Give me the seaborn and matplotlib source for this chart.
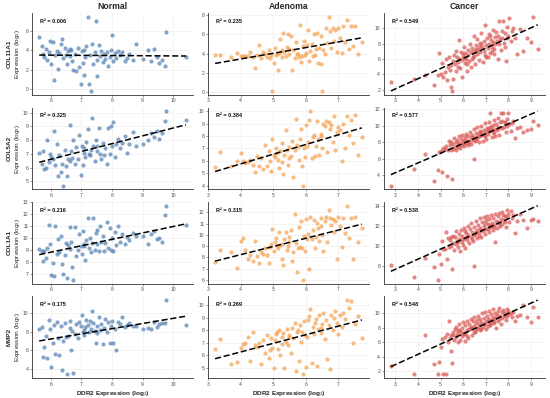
import pandas as pd
import seaborn as sns
import matplotlib.pyplot as plt
from matplotlib import transforms

# DDR2 expression (log2), shared by the four genes inside each group
normal_ddr2 = [
    5.62, 5.70, 5.74, 5.78, 5.83, 5.88, 5.93, 5.97, 6.02, 6.06,
    6.10, 6.14, 6.19, 6.23, 6.28, 6.33, 6.37, 6.41, 6.46, 6.52,
    6.57, 6.61, 6.64, 6.67, 6.70, 6.73, 6.78, 6.83, 6.88, 6.92,
    6.97, 7.01, 7.05, 7.09, 7.12, 7.16, 7.20, 7.24, 7.28, 7.31,
    7.35, 7.39, 7.43, 7.47, 7.52, 7.56, 7.60, 7.65, 7.69, 7.74,
    7.78, 7.83, 7.87, 7.92, 7.96, 8.00, 8.04, 8.09, 8.13, 8.18,
    8.25, 8.33, 8.41, 8.48, 8.55, 8.68, 8.80, 9.02, 9.18, 9.28,
    9.38, 9.46, 9.55, 9.62, 9.72, 9.76, 10.42, 6.48, 7.08, 7.50,
]
adenoma_ddr2 = [
    3.22, 3.36, 3.72, 3.90, 4.02, 4.08, 4.15, 4.22, 4.30, 4.38,
    4.45, 4.52, 4.58, 4.64, 4.70, 4.76, 4.82, 4.88, 4.93, 4.98,
    5.02, 5.06, 5.10, 5.14, 5.18, 5.22, 5.26, 5.30, 5.34, 5.38,
    5.42, 5.46, 5.50, 5.54, 5.58, 5.62, 5.66, 5.70, 5.74, 5.78,
    5.82, 5.86, 5.90, 5.94, 5.98, 6.02, 6.06, 6.10, 6.14, 6.18,
    6.22, 6.26, 6.30, 6.34, 6.38, 6.42, 6.46, 6.50, 6.54, 6.58,
    6.62, 6.66, 6.70, 6.74, 6.78, 6.82, 6.86, 6.90, 6.95, 7.00,
    7.05, 7.10, 7.15, 7.20, 7.26, 7.32, 7.38, 7.45, 7.52, 7.60,
    7.72, 5.12, 5.48, 5.76, 6.04, 6.28, 5.28, 5.88, 6.48, 4.90,
]
cancer_ddr2 = [
    2.80, 3.80, 4.30, 4.70, 4.88, 4.95, 5.00, 5.05, 5.12, 5.18,
    5.22, 5.28, 5.33, 5.38, 5.42, 5.46, 5.50, 5.53, 5.56, 5.60,
    5.63, 5.66, 5.70, 5.73, 5.76, 5.80, 5.83, 5.86, 5.90, 5.93,
    5.96, 6.00, 6.03, 6.06, 6.10, 6.13, 6.16, 6.20, 6.23, 6.26,
    6.30, 6.33, 6.36, 6.40, 6.43, 6.46, 6.50, 6.53, 6.56, 6.60,
    6.63, 6.66, 6.70, 6.73, 6.76, 6.80, 6.83, 6.86, 6.90, 6.93,
    6.96, 7.00, 7.03, 7.06, 7.10, 7.13, 7.16, 7.20, 7.23, 7.26,
    7.30, 7.33, 7.36, 7.40, 7.43, 7.46, 7.50, 7.53, 7.56, 7.60,
    7.63, 7.66, 7.70, 7.73, 7.76, 7.80, 7.84, 7.88, 7.92, 7.96,
    8.00, 8.05, 8.10, 8.16, 8.22, 8.30, 8.40, 8.52, 8.65, 8.82,
    9.00, 9.10, 9.30, 5.48, 5.78, 6.08, 6.38, 6.68, 6.98, 7.28,
    7.58, 7.86, 6.18, 6.48, 6.78, 7.08, 7.38, 5.98, 6.58, 7.18,
]

# Normal tissue
normal_col11a1 = [
    5.3, 4.4, 3.6, 3.3, 4.1, 3.0, 3.8, 4.9, 2.6, 4.8,
    0.9, 3.5, 3.9, 2.1, 3.7, 4.6, 5.1, 3.2, 4.2, 2.6,
    3.9, 4.1, 3.4, 4.0, 2.9, 2.0, 3.6, 1.9, 4.2, 2.3,
    0.5, 3.9, 2.7, 1.5, 3.3, 4.4, 7.4, 0.5, 3.5, -0.2,
    4.6, 2.6, 3.8, 7.0, 1.3, 4.5, 3.4, 3.9, 2.8, 3.6,
    3.1, 3.8, 2.4, 3.3, 4.0, 5.5, 2.9, 3.7, 3.2, 3.9,
    3.5, 3.8, 2.9, 3.2, 3.6, 3.0, 4.6, 3.1, 4.0, 2.9,
    4.1, 3.3, 2.7, 3.0, 2.4, 5.9, 3.3, 3.5, 4.0, 3.0,
]
normal_col5a2 = [
    7.1, 6.3, 7.2, 5.9, 6.0, 8.0, 6.4, 7.0, 6.8, 6.6,
    8.7, 6.2, 7.7, 5.4, 6.9, 5.7, 6.3, 4.7, 7.3, 5.4,
    6.6, 9.1, 6.5, 7.2, 6.7, 8.0, 6.3, 7.5, 6.6, 8.4,
    5.5, 7.6, 6.2, 7.4, 6.8, 7.9, 8.8, 7.0, 6.9, 7.3,
    9.6, 7.6, 6.5, 8.0, 7.2, 8.9, 7.0, 6.6, 7.8, 6.9,
    7.4, 6.3, 8.9, 7.0, 9.0, 7.6, 9.3, 6.8, 7.7, 8.1,
    7.4, 7.8, 8.3, 7.1, 7.7, 8.6, 7.6, 7.7, 8.0, 8.5,
    8.2, 8.7, 8.1, 8.5, 9.4, 10.1, 9.5, 6.1, 7.1, 7.6,
]
normal_col1a1 = [
    9.1, 8.9, 8.1, 8.9, 8.3, 9.2, 11.1, 9.5, 6.9, 7.9,
    6.8, 11.0, 8.7, 9.9, 8.8, 10.2, 7.8, 7.0, 8.6, 6.7,
    9.4, 10.9, 9.1, 9.7, 7.6, 6.5, 10.9, 8.5, 9.0, 10.3,
    9.3, 8.7, 10.6, 9.5, 8.2, 9.8, 11.7, 9.2, 10.0, 8.8,
    9.6, 11.7, 9.0, 10.4, 9.5, 8.9, 11.0, 9.7, 10.2, 8.9,
    9.6, 11.3, 9.2, 10.8, 9.0, 10.0, 8.9, 10.5, 9.4, 11.0,
    9.7, 10.3, 9.5, 10.1, 9.8, 10.4, 10.2, 10.2, 9.5, 10.3,
    10.6, 9.9, 10.0, 9.7, 11.9, 12.7, 11.1, 9.6, 9.3, 10.7,
]
normal_mmp2 = [
    8.3, 8.5, 5.3, 6.3, 7.5, 5.2, 9.3, 8.3, 4.2, 6.8,
    8.7, 5.6, 9.0, 7.3, 5.5, 8.6, 3.9, 7.0, 8.9, 3.4,
    7.5, 8.4, 9.1, 6.0, 8.1, 3.5, 7.8, 8.8, 7.3, 9.0,
    8.6, 9.8, 8.0, 7.6, 8.5, 9.3, 8.7, 8.0, 9.2, 8.3,
    10.2, 8.9, 8.1, 6.8, 8.6, 9.6, 8.2, 8.8, 6.7, 8.4,
    9.4, 8.0, 9.0, 6.8, 8.6, 9.1, 6.8, 8.3, 6.0, 9.0,
    8.8, 9.6, 8.5, 8.7, 8.9, 8.6, 8.6, 8.3, 8.4, 8.3,
    9.0, 8.5, 8.8, 8.9, 8.9, 11.4, 8.7, 7.4, 8.2, 7.9,
]

# Adenoma
adenoma_col11a1 = [
    3.8, 3.8, 3.6, 4.1, 3.7, 3.7, 3.7, 3.7, 4.2, 3.6,
    2.5, 3.8, 4.9, 3.5, 4.2, 3.9, 3.6, 4.4, 3.8, 0.1,
    3.0, 4.6, 3.8, 2.3, 4.1, 5.5, 3.6, 6.1, 4.2, 3.7,
    4.7, 6.0, 3.9, 5.8, 2.3, 4.4, 3.5, 5.2, 4.0, 3.6,
    7.0, 3.1, 4.8, 5.3, 3.8, 4.1, 6.4, 3.2, 4.3, 5.0,
    3.7, 6.0, 4.5, 6.1, 3.0, 4.6, 2.9, 0.1, 4.4, 3.9,
    6.6, 5.1, 7.8, 6.3, 4.6, 6.6, 5.3, 6.4, 4.2, 6.6,
    5.6, 4.1, 6.8, 5.2, 7.5, 4.5, 6.9, 4.8, 6.8, 4.0,
    5.2, 4.0, 4.5, 3.9, 4.9, 3.8, 4.4, 3.7, 5.8, 3.5,
]
adenoma_col5a2 = [
    5.5, 6.7, 5.6, 6.0, 6.6, 6.0, 5.8, 5.9, 6.1, 5.7,
    5.1, 6.4, 5.6, 6.2, 5.3, 7.3, 5.6, 6.8, 5.2, 7.8,
    6.5, 6.3, 7.0, 6.1, 5.4, 6.8, 7.4, 4.9, 6.5, 8.5,
    6.9, 5.7, 7.1, 6.4, 7.6, 4.7, 6.9, 9.4, 7.3, 6.1,
    7.8, 8.6, 4.0, 7.0, 6.3, 8.9, 7.5, 9.3, 10.0, 6.2,
    7.9, 8.1, 7.2, 9.2, 7.8, 6.5, 8.0, 7.0, 9.0, 8.8,
    9.2, 6.7, 9.1, 8.6, 8.9, 7.5, 9.6, 6.9, 8.3, 8.7,
    8.5, 6.0, 9.0, 7.0, 9.6, 8.1, 9.3, 7.4, 9.7, 6.5,
    7.9, 6.6, 6.2, 7.1, 7.2, 6.4, 5.9, 5.6, 8.2, 6.0,
]
adenoma_col1a1 = [
    7.6, 8.7, 8.5, 7.1, 9.5, 9.7, 8.7, 7.9, 8.2, 7.7,
    9.5, 8.1, 7.5, 8.5, 8.3, 8.8, 8.2, 7.5, 9.2, 10.5,
    8.6, 9.4, 9.7, 8.8, 10.3, 9.1, 7.9, 7.3, 9.6, 10.3,
    8.7, 9.0, 9.8, 10.4, 7.7, 8.5, 11.9, 9.3, 6.7, 10.7,
    8.9, 11.2, 6.0, 9.9, 8.6, 11.4, 10.1, 7.0, 11.6, 9.6,
    10.4, 11.3, 9.8, 11.1, 10.6, 9.5, 11.5, 10.0, 8.6, 11.2,
    11.6, 9.4, 12.2, 11.5, 10.9, 11.4, 10.3, 11.2, 7.9, 11.6,
    10.8, 8.9, 11.5, 10.2, 12.6, 9.7, 11.5, 7.9, 11.6, 9.4,
    10.6, 9.0, 9.4, 8.8, 9.6, 8.8, 9.2, 8.8, 10.8, 8.9,
]
adenoma_mmp2 = [
    6.5, 7.3, 5.3, 5.5, 6.6, 6.9, 7.0, 7.5, 5.6, 7.9,
    6.8, 6.7, 7.0, 5.3, 7.2, 6.2, 7.6, 5.8, 7.4, 6.6,
    5.0, 7.2, 7.7, 6.5, 8.0, 6.0, 7.5, 7.8, 5.0, 7.1,
    8.1, 6.8, 7.6, 6.2, 8.2, 7.4, 8.6, 4.8, 7.9, 5.6,
    8.4, 7.1, 4.5, 8.7, 7.6, 5.1, 8.8, 9.1, 9.7, 5.4,
    8.3, 7.7, 8.9, 5.2, 8.1, 9.2, 7.8, 8.5, 9.4, 7.3,
    8.8, 5.7, 8.4, 4.9, 9.2, 8.0, 9.0, 9.5, 8.6, 7.7,
    9.2, 8.3, 9.4, 8.9, 10.4, 9.8, 10.3, 7.0, 8.5, 9.1,
    7.4, 7.9, 7.5, 8.0, 7.5, 8.6, 6.9, 7.9, 8.2, 6.4,
]

# Cancer
cancer_col11a1 = [
    3.0, 3.4, 3.9, 2.6, 3.9, 6.8, 4.0, 5.5, 3.6, 4.3,
    6.0, 3.2, 5.0, 6.2, 4.6, 2.4, 1.8, 5.8, 3.4, 6.5,
    5.3, 7.1, 4.4, 6.2, 5.6, 8.5, 6.0, 4.8, 6.9, 5.9,
    3.6, 6.3, 7.6, 5.5, 6.8, 6.0, 4.4, 7.2, 6.5, 5.8,
    8.0, 6.9, 4.9, 7.4, 6.2, 9.0, 7.0, 5.3, 7.8, 6.6,
    8.6, 7.2, 5.9, 8.1, 6.9, 9.4, 7.5, 5.6, 8.3, 7.0,
    10.5, 7.8, 6.2, 8.7, 7.4, 9.3, 8.0, 6.8, 8.5, 7.6,
    9.8, 8.2, 6.6, 8.9, 7.9, 9.5, 8.4, 6.0, 9.0, 10.9,
    8.6, 7.2, 9.7, 8.8, 10.9, 8.1, 9.4, 5.8, 8.7, 10.2,
    9.0, 11.3, 8.3, 9.6, 10.1, 8.8, 6.6, 9.9, 7.1, 8.8,
    8.2, 11.5, 7.3, 5.2, 5.0, 6.1, 6.0, 7.6, 6.5, 7.0,
    8.0, 7.5, 5.4, 6.4, 8.0, 6.3, 7.3, 6.7, 7.3, 9.0,
]
cancer_col5a2 = [
    2.7, 4.7, 6.5, 3.2, 4.6, 6.8, 6.9, 4.3, 7.3, 7.2,
    7.5, 3.9, 7.0, 8.2, 7.6, 7.0, 3.5, 7.8, 7.2, 8.5,
    7.4, 8.0, 7.1, 8.3, 7.6, 8.8, 7.9, 7.3, 8.4, 7.7,
    8.9, 8.1, 7.5, 8.6, 7.9, 9.0, 8.2, 7.6, 8.7, 8.0,
    9.2, 8.4, 7.8, 8.9, 8.3, 9.6, 5.9, 8.1, 9.1, 8.5,
    9.8, 8.8, 8.0, 9.4, 8.7, 10.0, 9.0, 8.2, 9.5, 8.9,
    10.3, 9.2, 8.4, 9.7, 9.0, 10.5, 9.4, 11.6, 9.8, 8.6,
    10.1, 9.3, 10.7, 9.6, 8.8, 10.2, 9.5, 10.9, 9.9, 8.9,
    10.4, 11.6, 9.7, 10.6, 11.6, 9.9, 10.3, 9.2, 10.8, 10.0,
    11.6, 10.2, 9.4, 10.3, 10.6, 8.5, 9.7, 9.9, 9.2, 9.5,
    9.6, 10.6, 10.1, 8.0, 7.4, 8.3, 8.6, 9.1, 8.7, 9.5,
    9.7, 10.5, 7.9, 8.6, 9.2, 9.6, 9.1, 7.9, 8.3, 9.8,
]
cancer_col1a1 = [
    8.1, 6.9, 8.8, 7.9, 6.6, 9.2, 8.2, 10.5, 9.7, 9.7,
    11.4, 8.7, 10.8, 9.9, 10.6, 10.0, 7.7, 10.3, 11.0, 9.6,
    10.9, 10.2, 11.5, 10.5, 9.9, 11.2, 10.7, 9.5, 11.6, 10.4,
    11.0, 10.1, 11.8, 10.8, 9.8, 11.3, 10.6, 12.0, 11.1, 10.3,
    11.7, 10.9, 12.3, 11.4, 10.5, 11.9, 8.0, 11.2, 12.5, 11.6,
    10.8, 12.1, 11.3, 12.8, 11.8, 10.9, 12.4, 11.5, 12.9, 12.0,
    11.2, 12.6, 11.7, 13.0, 12.2, 11.4, 12.7, 11.9, 13.1, 12.3,
    11.6, 12.8, 12.1, 13.2, 10.4, 12.5, 11.8, 13.0, 12.4, 13.3,
    12.0, 12.7, 13.4, 12.2, 13.1, 12.6, 13.0, 11.9, 13.6, 12.9,
    13.2, 12.4, 13.5, 12.8, 13.1, 11.3, 12.5, 13.2, 12.6, 11.8,
    12.6, 12.7, 12.5, 10.9, 10.4, 11.5, 10.7, 11.0, 12.3, 12.0,
    12.2, 12.4, 10.9, 11.1, 11.6, 11.7, 11.9, 10.7, 11.4, 12.1,
]
cancer_mmp2 = [
    2.8, 1.7, 7.0, 3.0, 1.7, 3.3, 5.4, 6.5, 1.7, 6.8,
    1.6, 7.2, 6.0, 9.0, 6.6, 4.8, 3.2, 7.5, 7.0, 6.3,
    7.9, 6.8, 8.2, 7.1, 6.1, 7.7, 8.5, 6.4, 7.4, 8.0,
    6.9, 8.8, 7.3, 6.2, 8.4, 7.6, 9.0, 7.9, 6.6, 8.6,
    7.8, 9.2, 8.1, 7.0, 8.9, 8.3, 9.5, 7.5, 8.7, 9.1,
    8.0, 9.6, 8.5, 7.7, 9.3, 8.8, 10.0, 8.2, 9.4, 8.6,
    10.2, 9.0, 7.9, 9.7, 8.9, 10.4, 9.2, 8.4, 9.9, 9.1,
    10.6, 9.5, 8.7, 10.1, 9.4, 8.0, 9.8, 10.3, 9.0, 10.7,
    9.6, 8.6, 10.2, 9.4, 10.5, 9.8, 10.0, 9.1, 10.6, 9.7,
    10.3, 9.9, 10.1, 9.5, 10.2, 9.0, 9.6, 9.8, 11.1, 9.5,
    8.8, 10.9, 9.5, 7.0, 7.6, 7.2, 8.0, 8.2, 8.5, 8.8,
    9.3, 9.6, 6.9, 7.4, 7.9, 8.3, 8.9, 7.1, 7.7, 8.6,
]

groups = ['Normal', 'Adenoma', 'Cancer']
genes = ['COL11A1', 'COL5A2', 'COL1A1', 'MMP2']
r2_labels = [
    ['0.006', '0.235', '0.549'],
    ['0.325', '0.384', '0.577'],
    ['0.216', '0.315', '0.538'],
    ['0.175', '0.269', '0.548'],
]

ddr2 = {'Normal': normal_ddr2, 'Adenoma': adenoma_ddr2, 'Cancer': cancer_ddr2}
expr = {
    'Normal': [normal_col11a1, normal_col5a2, normal_col1a1, normal_mmp2],
    'Adenoma': [adenoma_col11a1, adenoma_col5a2, adenoma_col1a1, adenoma_mmp2],
    'Cancer': [cancer_col11a1, cancer_col5a2, cancer_col1a1, cancer_mmp2],
}
colors = {'Normal': '#5582b2', 'Adenoma': '#f5a253', 'Cancer': '#d95a55'}

xticks = [[6, 7, 8, 9, 10], [3, 4, 5, 6, 7], [3, 4, 5, 6, 7, 8, 9]]
yticks = [
    [[0, 2, 4, 6], [0, 2, 4, 6, 8], [2, 4, 6, 8, 10]],
    [[5, 6, 7, 8, 9, 10], [4, 5, 6, 7, 8, 9, 10], [4, 6, 8, 10, 12]],
    [[7, 8, 9, 10, 11, 12, 13], [6, 7, 8, 9, 10, 11, 12], [8, 10, 12, 14]],
    [[4, 6, 8, 10], [5, 6, 7, 8, 9, 10], [2, 4, 6, 8, 10]],
]

sns.set_theme(style='white')
plt.rcParams['font.family'] = ['Liberation Sans', 'DejaVu Sans']
plt.rcParams['mathtext.fontset'] = 'custom'
plt.rcParams['mathtext.rm'] = 'Liberation Sans'
plt.rcParams['mathtext.bf'] = 'Liberation Sans:bold'

fig, axes = plt.subplots(4, 3, figsize=(5.5, 3.98), dpi=100)
fig.subplots_adjust(left=0.058, right=0.991, bottom=0.05, top=0.967,
                    wspace=0.089, hspace=0.155)

for i, gene in enumerate(genes):
    for j, grp in enumerate(groups):
        ax = axes[i, j]
        df = pd.DataFrame({'DDR2': ddr2[grp], gene: expr[grp][i]})
        sns.regplot(data=df, x='DDR2', y=gene, ax=ax, ci=None,
                    scatter_kws=dict(s=9, color=colors[grp], alpha=0.72, linewidths=0),
                    line_kws=dict(color='black', lw=1.1, ls=(0, (4, 1.8))))
        ax.set_xticks(xticks[j])
        ax.set_yticks(yticks[i][j])
        ax.set_xlabel('')
        ax.set_ylabel('')
        ax.grid(True, color='#ececec', lw=0.4)
        ax.set_axisbelow(True)
        for side in ['top', 'right']:
            ax.spines[side].set_visible(False)
        for side in ['left', 'bottom']:
            ax.spines[side].set_color('#333333')
            ax.spines[side].set_linewidth(0.6)
        ax.tick_params(labelsize=3.6, length=1.5, width=0.4, pad=1,
                       colors='#4d4d4d', left=True, bottom=True)
        ax.text(0.05, 0.9, 'R² = ' + r2_labels[i][j], transform=ax.transAxes,
                fontsize=4, fontweight='bold', va='center', color='#111111')
        if i == 0:
            ax.set_title(grp, fontsize=6.2, fontweight='bold', pad=3)
        if i == 3:
            ax.set_xlabel('DDR2 Expression (log$_2$)', fontsize=4.6,
                          fontweight='bold', labelpad=1.5)
        if j == 0:
            tr = transforms.blended_transform_factory(fig.transFigure, ax.transAxes)
            ax.text(0.016, 0.5, gene, transform=tr, rotation=90, fontsize=4.6,
                    fontweight='bold', ha='center', va='center')
            ax.text(0.031, 0.5, 'Expression (log$_2$)', transform=tr, rotation=90,
                    fontsize=4.6, ha='center', va='center')

fig.savefig('out.png', dpi=100)
